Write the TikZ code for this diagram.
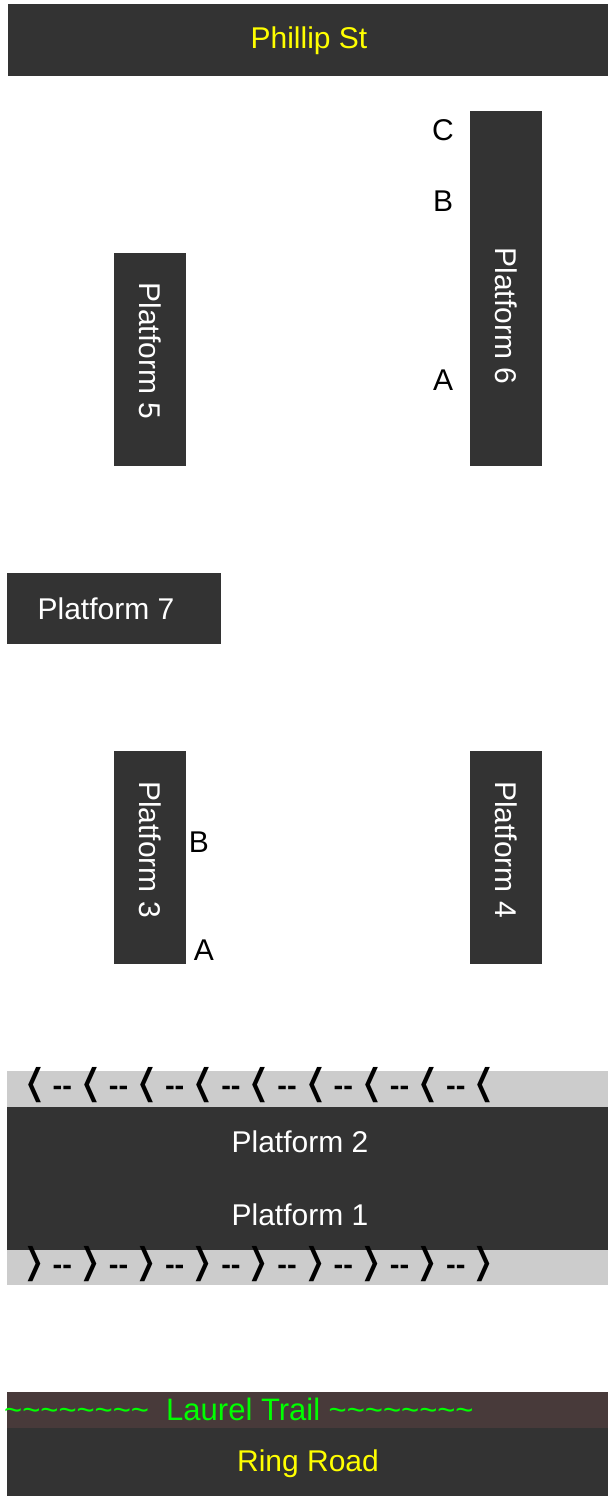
\documentclass[tikz,border=0pt]{standalone}
\usepackage{fontspec}
\setmainfont{Liberation Sans}
\newfontfamily\chevfont{DejaVu Sans}
\usetikzlibrary{positioning}
\definecolor{darkslab}{HTML}{333333}
\definecolor{railgrey}{HTML}{CCCCCC}
\definecolor{trailbrown}{HTML}{483A3A}
\definecolor{signyellow}{HTML}{FFFF00}
\definecolor{trailgreen}{HTML}{00FF00}
\tikzset{
  slab/.style={rectangle, fill=darkslab, inner sep=0pt},
  lbl/.style={font=\fontsize{30}{36}\selectfont, inner sep=0pt, text height=21.5pt, text depth=0pt},
  plat/.style={lbl, text=white},
  street/.style={lbl, text=signyellow},
  side/.style={lbl, text=black},
  track/.style={inner sep=0pt, anchor=base west}
}
\newcommand{\chevl}{\makebox[28.1pt]{\scalebox{1.6}[1.1]{\chevfont\fontsize{36}{40}\selectfont ⟨}}}
\newcommand{\chevr}{\makebox[28.1pt]{\scalebox{1.6}[1.1]{\chevfont\fontsize{36}{40}\selectfont ⟩}}}
\newcommand{\ties}{\makebox[28.1pt]{\raisebox{2pt}{\fontsize{29}{32}\selectfont\bfseries -\kern0pt-}}}
\newcommand{\waves}{\textasciitilde\textasciitilde\textasciitilde\textasciitilde\textasciitilde\textasciitilde\textasciitilde\textasciitilde}

\begin{document}
\begin{tikzpicture}[x=1pt, y=-1pt]
        \useasboundingbox (0,0) rectangle (608,1496);
        % ruas e plataformas
        \node[slab, minimum width=600pt, minimum height=72pt] (phillip) at (308, 40) {};
        \node[slab, minimum width=72pt, minimum height=355pt] (plat6) at (506, 288.5) {};
        \node[slab, minimum width=72pt, minimum height=213pt] (plat5) at (150, 359.5) {};
        \node[slab, minimum width=214pt, minimum height=71pt] (plat7) at (114, 608.5) {};
        \node[slab, minimum width=72pt, minimum height=213pt] (plat3) at (150, 857.5) {};
        \node[slab, minimum width=72pt, minimum height=213pt] (plat4) at (506, 857.5) {};
        \node[slab, fill=railgrey, minimum width=601pt, minimum height=36pt] (railup) at (307.5, 1089) {};
        \node[slab, minimum width=601pt, minimum height=143pt] (plat12) at (307.5, 1178.5) {};
        \node[slab, fill=railgrey, minimum width=601pt, minimum height=35pt] (raildown) at (307.5, 1267.5) {};
        \node[slab, fill=trailbrown, minimum width=601pt, minimum height=36pt] (trail) at (307.5, 1410) {};
        \node[slab, minimum width=601pt, minimum height=68pt] (ring) at (307.5, 1462) {};
        % nomes
        \node[street] (phillipname) at (309, 38) {Phillip St};
        \node[plat, rotate=-90] (plat6name) at (506, 316) {Platform 6};
        \node[plat, rotate=-90] (plat5name) at (150, 351) {Platform 5};
        \node[plat] (plat7name) at (106, 609) {Platform 7};
        \node[plat, rotate=-90] (plat3name) at (150, 849.5) {Platform 3};
        \node[plat, rotate=-90] (plat4name) at (506, 849.5) {Platform 4};
        \node[plat] (plat2name) at (300, 1142) {Platform 2};
        \node[plat] (plat1name) at (300, 1215) {Platform 1};
        \node[street] (ringname) at (308, 1461) {Ring Road};
        \node[lbl, font=\fontsize{31}{36}\selectfont, text=trailgreen, anchor=west] (trailname) at (4, 1410) {\waves\ \ Laurel Trail\ \waves};
        % pontos de embarque
        \node[side] (p6c) at (443, 130) {C};
        \node[side] (p6b) at (443, 201) {B};
        \node[side] (p6a) at (443, 380) {A};
        \node[side] (p3b) at (199, 842) {B};
        \node[side] (p3a) at (204, 950) {A};
        % sentido dos trilhos
        \node[track] (trackup) at (20, 1097) {\chevl\ties\chevl\ties\chevl\ties\chevl\ties\chevl\ties\chevl\ties\chevl\ties\chevl\ties\chevl};
        \node[track] (trackdown) at (20, 1276) {\chevr\ties\chevr\ties\chevr\ties\chevr\ties\chevr\ties\chevr\ties\chevr\ties\chevr\ties\chevr};
\end{tikzpicture}
\end{document}
